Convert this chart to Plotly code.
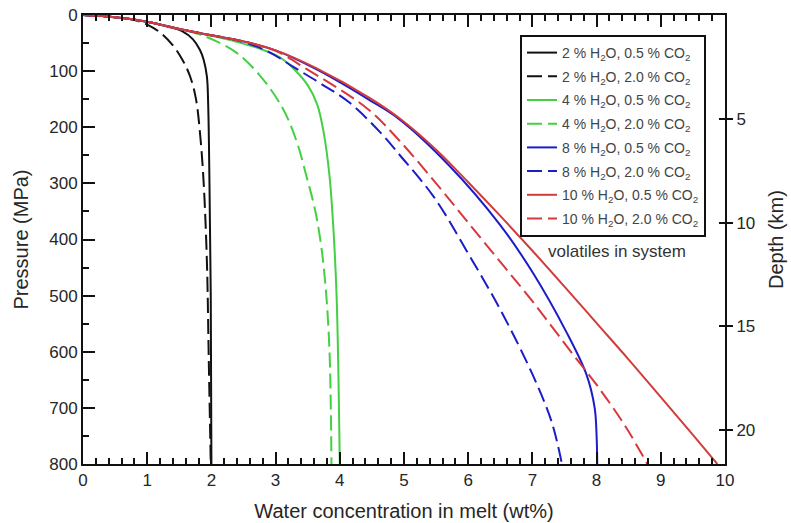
import plotly.graph_objects as go

# ---- data (x = water in melt wt%, P = pressure MPa) ----
labels = [
    "2 % H<sub>2</sub>O, 0.5 % CO<sub>2</sub>",
    "2 % H<sub>2</sub>O, 2.0 % CO<sub>2</sub>",
    "4 % H<sub>2</sub>O, 0.5 % CO<sub>2</sub>",
    "4 % H<sub>2</sub>O, 2.0 % CO<sub>2</sub>",
    "8 % H<sub>2</sub>O, 0.5 % CO<sub>2</sub>",
    "8 % H<sub>2</sub>O, 2.0 % CO<sub>2</sub>",
    "10 % H<sub>2</sub>O, 0.5 % CO<sub>2</sub>",
    "10 % H<sub>2</sub>O, 2.0 % CO<sub>2</sub>",
]

x_2_05 = [0, 0.5, 1.0, 1.3, 1.55, 1.71, 1.82, 1.88, 1.93, 1.95, 1.97, 1.99, 2.0]
p_2_05 = [0, 4, 12, 20, 29, 43, 62, 80, 110, 160, 300, 500, 800]

x_2_20 = [0, 0.5, 0.8, 1.0, 1.2, 1.4, 1.55, 1.67, 1.76, 1.83, 1.88, 1.93, 1.96, 1.99]
p_2_20 = [0, 4, 9, 17, 31, 54, 80, 110, 150, 220, 300, 440, 620, 800]

x_4_05 = [0, 0.5, 1.0, 1.5, 2.0, 2.4, 2.8, 3.1, 3.3, 3.5, 3.65, 3.75, 3.84, 3.9, 3.95, 3.98, 4.0]
p_4_05 = [0, 4, 12, 25, 37, 48, 62, 78, 98, 125, 160, 210, 287, 380, 500, 650, 800]

x_4_20 = [0, 0.5, 1.0, 1.5, 1.8, 2.08, 2.4, 2.75, 3.11, 3.33, 3.48, 3.62, 3.72, 3.79, 3.84, 3.86, 3.87]
p_4_20 = [0, 4, 12, 25, 34, 47, 68, 107, 166, 226, 287, 350, 420, 500, 600, 700, 800]

x_8_05 = [0, 0.5, 1.0, 1.5, 2.0, 2.5, 3.0, 3.64, 4.47, 4.93, 5.71, 6.49, 7.0, 7.53, 7.84, 7.97, 8.0, 8.01]
p_8_05 = [0, 4, 12, 25, 36, 47, 63, 97, 152, 186, 269, 373, 458, 565, 640, 700, 750, 800]

x_8_20 = [0, 0.5, 1.0, 1.5, 2.0, 2.5, 2.9, 3.27, 3.7, 4.15, 4.67, 4.93, 5.47, 6.0, 6.5, 7.0, 7.3, 7.46]
p_8_20 = [0, 4, 12, 25, 36, 48, 66, 92, 122, 156, 214, 249, 325, 425, 525, 640, 725, 800]

x_10_05 = [0, 0.5, 1.0, 1.5, 2.0, 2.5, 3.0, 3.64, 4.47, 4.93, 5.5, 6.0, 6.5, 7.0, 7.5, 8.0, 8.5, 9.0, 9.5, 9.88]
p_10_05 = [0, 4, 12, 25, 36, 47, 63, 95, 148, 184, 240, 298, 358, 420, 484, 549, 614, 681, 748, 800]

x_10_20 = [0, 0.5, 1.0, 1.5, 2.0, 2.5, 3.0, 3.48, 4.42, 4.93, 5.5, 6.0, 6.5, 7.0, 7.62, 8.04, 8.46, 8.79]
p_10_20 = [0, 4, 12, 25, 36, 47, 64, 96, 166, 224, 300, 370, 440, 510, 603, 665, 735, 800]

series_x = [x_2_05, x_2_20, x_4_05, x_4_20, x_8_05, x_8_20, x_10_05, x_10_20]
series_p = [p_2_05, p_2_20, p_4_05, p_4_20, p_8_05, p_8_20, p_10_05, p_10_20]
colors = ["#111111", "#111111", "#44d044", "#44d044", "#1c1cc8", "#1c1cc8", "#d23c3c", "#d8383c"]
dashes = ["solid", "15px,6px", "solid", "15px,6px", "solid", "15px,6px", "solid", "15px,6px"]

x_ticks = [0, 1, 2, 3, 4, 5, 6, 7, 8, 9, 10]
p_ticks = [0, 100, 200, 300, 400, 500, 600, 700, 800]
depth_ticks = [5, 10, 15, 20]
mpa_per_km = 37.0

FONT = "Liberation Sans, Arial, sans-serif"
TXT = "#262626"

fig = go.Figure()
for i in range(len(labels)):
    fig.add_trace(go.Scatter(
        x=series_x[i], y=series_p[i], mode="lines", name=labels[i],
        legendgroup=f"g{i}",
        line=dict(color=colors[i], width=2, dash=dashes[i], shape="spline", smoothing=1.0),
    ))

# empty helper traces so the depth axes get drawn
fig.add_trace(go.Scatter(x=[], y=[], yaxis="y2", showlegend=False, hoverinfo="skip"))
fig.add_trace(go.Scatter(x=[], y=[], yaxis="y3", showlegend=False, hoverinfo="skip"))

depth_max = 800 / mpa_per_km

fig.update_layout(
    width=791, height=523,
    margin=dict(l=83, r=66, t=15, b=59),
    paper_bgcolor="white", plot_bgcolor="white",
    font=dict(family=FONT, color=TXT),
    showlegend=True,
    legend=dict(
        x=(520 - 83) / 642, y=1 - (35 - 15) / 449, xanchor="left", yanchor="top",
        bordercolor="#111111", borderwidth=2, bgcolor="white",
        font=dict(size=14, color="#444444", family=FONT),
        tracegroupgap=2.5,
    ),
    xaxis=dict(
        range=[0, 10], tickvals=x_ticks, ticks="inside", ticklen=12, tickwidth=2,
        tickcolor="#111111", showline=True, linewidth=2, linecolor="#111111",
        mirror="ticks", showgrid=False, zeroline=False, automargin=False,
        minor=dict(dtick=0.2, ticks="inside", ticklen=6, tickwidth=2, tickcolor="#111111", showgrid=False),
        tickfont=dict(size=17, color=TXT),
        title=dict(text="Water concentration in melt (wt%)", font=dict(size=20, color=TXT)),
    ),
    yaxis=dict(
        range=[800, 0], tickvals=p_ticks, ticks="inside", ticklen=12, tickwidth=2,
        tickcolor="#111111", showline=True, linewidth=2, linecolor="#111111",
        mirror=False, showgrid=False, zeroline=False, automargin=False,
        minor=dict(dtick=50, ticks="inside", ticklen=6, tickwidth=2, tickcolor="#111111", showgrid=False),
        tickfont=dict(size=17, color=TXT),
        title=dict(text="Pressure (MPa)", font=dict(size=20, color=TXT)),
    ),
    yaxis2=dict(
        overlaying="y", side="right", anchor="x",
        range=[depth_max, 0], tickvals=depth_ticks, ticks="outside", ticklen=6, tickwidth=2,
        tickcolor="#111111", showline=True, linewidth=2, linecolor="#111111",
        showgrid=False, zeroline=False, automargin=False,
        tickfont=dict(size=17, color=TXT),
        title=dict(text="Depth (km)", font=dict(size=20, color=TXT)),
    ),
    yaxis3=dict(
        overlaying="y", side="right", anchor="x",
        range=[depth_max, 0], tickvals=depth_ticks, ticks="inside", ticklen=6, tickwidth=2,
        tickcolor="#111111", showline=False, showticklabels=False,
        showgrid=False, zeroline=False, automargin=False,
    ),
)

fig.add_annotation(
    text="volatiles in system", xref="paper", yref="paper",
    x=(617 - 83) / 642, y=1 - (251 - 15) / 449, xanchor="center", yanchor="middle", showarrow=False,
    font=dict(size=17, color="#333333", family=FONT),
)

# remove the default 8px page margin so the figure sits at the window's top-left corner
fig.write_html("out.html", config={"displayModeBar": False},
               post_script="document.body.style.margin='0';")
